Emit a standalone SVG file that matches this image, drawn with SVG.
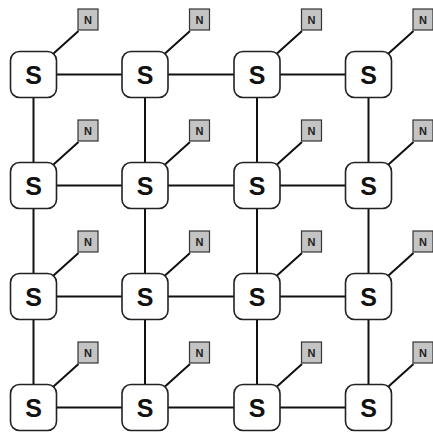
<svg xmlns="http://www.w3.org/2000/svg" width="433" height="432" viewBox="0 0 433 432">
<defs>
<style>
.sw{fill:#fff;stroke:#222;stroke-width:1.6}
.st{font-family:"Liberation Sans",Arial,sans-serif;font-weight:bold;font-size:25px;fill:#111;text-anchor:middle}
.nb{fill:#c4c4c4;stroke:#333;stroke-width:1.2}
.nt{font-family:"Liberation Sans",Arial,sans-serif;font-weight:bold;font-size:11px;fill:#222;text-anchor:middle}
.c{stroke:#111;stroke-width:2;fill:none}
</style>
<g id="nodeS"><rect class="sw" x="-23" y="-23" width="46" height="46" rx="9"/><text class="st" x="0" y="9">S</text></g>
<g id="nodeN"><rect class="nb" x="0" y="0" width="20" height="21"/><text class="nt" x="10" y="14.5">N</text></g>
</defs>
<rect width="433" height="432" fill="#fff"/>
<g id="connectors">
<path class="c" d="M33.5 74.5H368.5M33.5 185.5H368.5M33.5 296.5H368.5M33.5 407.5H368.5"/>
<path class="c" d="M33.5 74.5V407.5M145 74.5V407.5M257 74.5V407.5M368.5 74.5V407.5"/>
<path class="c" d="M53.5 53.5L78.5 31M165 53.5L190 31M277 53.5L302 31M388.5 53.5L413.5 31
M53.5 164.5L78.5 142M165 164.5L190 142M277 164.5L302 142M388.5 164.5L413.5 142
M53.5 275.5L78.5 253M165 275.5L190 253M277 275.5L302 253M388.5 275.5L413.5 253
M53.5 386.5L78.5 364M165 386.5L190 364M277 386.5L302 364M388.5 386.5L413.5 364"/>
</g>
<g id="s11"><use href="#nodeS" x="33.5" y="74.5"/></g>
<g id="s12"><use href="#nodeS" x="145" y="74.5"/></g>
<g id="s13"><use href="#nodeS" x="257" y="74.5"/></g>
<g id="s14"><use href="#nodeS" x="368.5" y="74.5"/></g>
<g id="s21"><use href="#nodeS" x="33.5" y="185.5"/></g>
<g id="s22"><use href="#nodeS" x="145" y="185.5"/></g>
<g id="s23"><use href="#nodeS" x="257" y="185.5"/></g>
<g id="s24"><use href="#nodeS" x="368.5" y="185.5"/></g>
<g id="s31"><use href="#nodeS" x="33.5" y="296.5"/></g>
<g id="s32"><use href="#nodeS" x="145" y="296.5"/></g>
<g id="s33"><use href="#nodeS" x="257" y="296.5"/></g>
<g id="s34"><use href="#nodeS" x="368.5" y="296.5"/></g>
<g id="s41"><use href="#nodeS" x="33.5" y="407.5"/></g>
<g id="s42"><use href="#nodeS" x="145" y="407.5"/></g>
<g id="s43"><use href="#nodeS" x="257" y="407.5"/></g>
<g id="s44"><use href="#nodeS" x="368.5" y="407.5"/></g>
<g id="n11"><use href="#nodeN" x="78" y="9"/></g>
<g id="n12"><use href="#nodeN" x="189.5" y="9"/></g>
<g id="n13"><use href="#nodeN" x="301.5" y="9"/></g>
<g id="n14"><use href="#nodeN" x="413" y="9"/></g>
<g id="n21"><use href="#nodeN" x="78" y="120"/></g>
<g id="n22"><use href="#nodeN" x="189.5" y="120"/></g>
<g id="n23"><use href="#nodeN" x="301.5" y="120"/></g>
<g id="n24"><use href="#nodeN" x="413" y="120"/></g>
<g id="n31"><use href="#nodeN" x="78" y="231"/></g>
<g id="n32"><use href="#nodeN" x="189.5" y="231"/></g>
<g id="n33"><use href="#nodeN" x="301.5" y="231"/></g>
<g id="n34"><use href="#nodeN" x="413" y="231"/></g>
<g id="n41"><use href="#nodeN" x="78" y="342"/></g>
<g id="n42"><use href="#nodeN" x="189.5" y="342"/></g>
<g id="n43"><use href="#nodeN" x="301.5" y="342"/></g>
<g id="n44"><use href="#nodeN" x="413" y="342"/></g>
</svg>
